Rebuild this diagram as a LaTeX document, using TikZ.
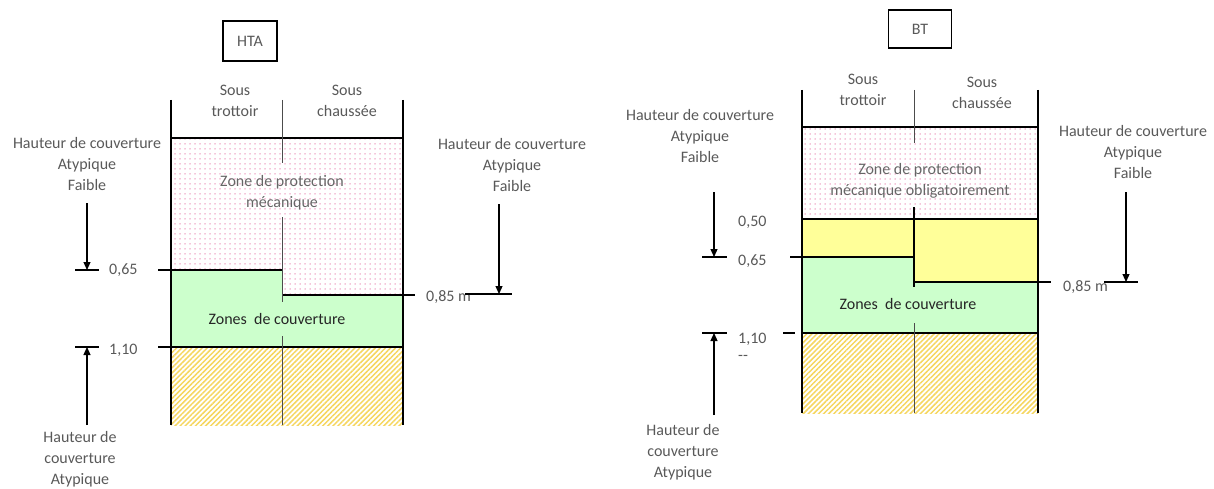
\documentclass[tikz,border=0pt]{standalone}
\usepackage{fontspec}
\setmainfont{Carlito}
\usepackage{tikz}
\usetikzlibrary{arrows.meta, patterns.meta, positioning}

\definecolor{txtgrey}{HTML}{595959}
\definecolor{dotpink}{HTML}{E98BB5}
\definecolor{covgreen}{HTML}{CCFFCC}
\definecolor{softyellow}{HTML}{FFFF99}
\definecolor{hatchyellow}{HTML}{F5D65F}

\tikzdeclarepattern{
  name=pinkdots, type=uncolored,
  bottom left={(-1pt,-1pt)}, top right={(4pt,4pt)}, tile size={(5pt,5pt)},
  code={\fill (0pt,0pt) circle (0.75pt);}
}

\begin{document}
\begin{tikzpicture}[
    x=1pt, y=-1pt,
    txt/.style={font=\fontsize{16}{21}\selectfont, text=txtgrey, align=center, inner sep=0pt},
    val/.style={txt, anchor=west},
    zonetxt/.style={txt, text=black!85},
    tag/.style={draw, line width=1.3pt, text=txtgrey, font=\fontsize{16}{18}\selectfont,
                inner sep=0pt},
    wall/.style={line width=1.2pt},
    divider/.style={line width=0.8pt, black!70},
    protect/.style={pattern=pinkdots, pattern color=dotpink},
    cover/.style={fill=covgreen},
    warn/.style={fill=softyellow},
    ground/.style={pattern={Lines[angle=45, distance=3.6pt, line width=1.5pt]},
                   pattern color=hatchyellow},
    arr/.style={-{Triangle[length=8pt, width=7pt]}, line width=1.2pt}
]
\useasboundingbox (0,0) rectangle (1214,489);

% ---- HTA ----
\fill[protect] (171,138) -- (403,138) -- (403,295) -- (282,295) -- (282,270) -- (171,270) -- cycle;
\fill[cover] (171,270) -- (282,270) -- (282,295) -- (403,295) -- (403,347) -- (171,347) -- cycle;
\fill[ground] (171,347) rectangle (403,425);

\foreach \x in {171, 403} \draw[wall] (\x,100) -- (\x,425);
\draw[wall] (171,138) -- (403,138);
\draw[wall] (158,270) -- (282,270);
\draw[wall] (282,295) -- (415,295);
\draw[wall] (158,347) -- (403,347);
\foreach \a/\b in {100/163, 217/302, 336/425} \draw[divider] (282,\a) -- (282,\b);

\node[tag, minimum width=54pt, minimum height=40pt] (hta) at (250,41) {HTA};
\node[txt] (htaTrot) at (235,101) {Sous\\trottoir};
\node[txt] (htaChau) at (347,101) {Sous\\chaussée};
\node[txt, text=black!60] (htaProt) at (282,193) {Zone de protection\\mécanique};
\node[zonetxt] (htaCouv) at (277,319) {Zones\ \ de couverture};

\node[txt] (htaFaibleL) at (87,164) {Hauteur de couverture\\Atypique\\Faible};
\node[txt] (htaFaibleR) at (512,165) {Hauteur de couverture\\Atypique\\Faible};
\node[txt] (htaAtyp) at (80,459) {Hauteur de\\couverture\\Atypique};
\node[val] (hta65) at (109,270) {0,65};
\node[val] (hta110) at (109,350) {1,10};
\node[val] (hta85) at (426,297) {0,85 m};

\coordinate (htaA1) at (87,203);  \coordinate (htaB1) at (87,270);
\coordinate (htaA2) at (87,425);  \coordinate (htaB2) at (87,347);
\coordinate (htaA3) at (499,204); \coordinate (htaB3) at (499,294);
\foreach \s/\e in {htaA1/htaB1, htaA2/htaB2, htaA3/htaB3} \draw[arr] (\s) -- (\e);
\draw[wall] (75,270) -- (99,270);
\draw[wall] (75,347) -- (99,347);
\draw[wall] (465,294) -- (512,294);

% ---- BT ----
\fill[protect] (802,127) rectangle (1038,219);
\fill[warn] (802,219) -- (1038,219) -- (1038,282) -- (914,282) -- (914,257) -- (802,257) -- cycle;
\fill[cover] (802,257) -- (914,257) -- (914,282) -- (1038,282) -- (1038,333) -- (802,333) -- cycle;
\fill[ground] (802,333) rectangle (1038,413);

\foreach \x in {802, 1038} \draw[wall] (\x,90) -- (\x,413);
\draw[wall] (802,127) -- (1038,127);
\draw[wall] (802,219) -- (1038,219);
\draw[wall] (790,257) -- (914,257);
\draw[wall] (914,282) -- (1051,282);
\draw[wall] (802,333) -- (1038,333);
\draw[wall] (783,333) -- (795,333);
\foreach \a/\b in {90/143, 323/413} \draw[divider] (914,\a) -- (914,\b);
\draw[wall] (914,207) -- (914,287);

\node[tag, minimum width=63pt, minimum height=38pt] (bt) at (920,29) {BT};
\node[txt] (btTrot) at (863,90) {Sous\\trottoir};
\node[txt] (btChau) at (982,93) {Sous\\chaussée};
\node[txt, text=black!60] (btProt) at (920,181) {Zone de protection\\mécanique obligatoirement};
\node[zonetxt] (btCouv) at (908,304) {Zones\ \ de couverture};

\node[txt] (btFaibleL) at (700,136) {Hauteur de couverture\\Atypique\\Faible};
\node[txt] (btFaibleR) at (1133,152) {Hauteur de couverture\\Atypique\\Faible};
\node[txt] (btAtyp) at (683,452) {Hauteur de\\couverture\\Atypique};
\node[val] (bt50) at (738,222) {0,50};
\node[val] (bt65) at (738,261) {0,65};
\node[val] (bt110) at (738,339) {1,10};
\node[val] (btDash) at (738,358) {-{}-};
\node[val] (bt85) at (1063,287) {0,85 m};

\coordinate (btA1) at (714,192);  \coordinate (btB1) at (714,257);
\coordinate (btA2) at (714,415);  \coordinate (btB2) at (714,333);
\coordinate (btA3) at (1126,192); \coordinate (btB3) at (1126,282);
\foreach \s/\e in {btA1/btB1, btA2/btB2, btA3/btB3} \draw[arr] (\s) -- (\e);
\draw[wall] (702,257) -- (727,257);
\draw[wall] (702,333) -- (727,333);
\draw[wall] (1104,282) -- (1138,282);
\end{tikzpicture}
\end{document}
